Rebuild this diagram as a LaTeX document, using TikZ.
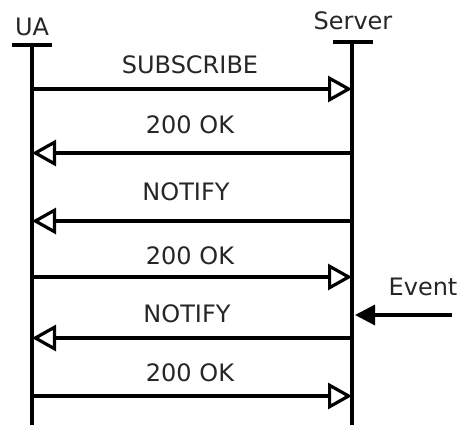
\documentclass[tikz,border=0pt]{standalone}
\usepackage{fontspec}
\setmainfont{DejaVu Sans}
\usetikzlibrary{arrows.meta}
\begin{document}
\begin{tikzpicture}[x=1pt,y=-1pt,
  lifeline/.style={line width=3.2pt},
  msg/.style={line width=3.2pt,-{Triangle[open,length=24pt,width=26pt]}},
  evt/.style={line width=3.2pt,-{Triangle[length=20pt,width=20pt]}},
  lbl/.style={font=\fontsize{24}{26}\selectfont,inner sep=0pt,text=black!85}
]
\useasboundingbox (0,0) rectangle (458,425);
% lifelines with their head bars
\coordinate (uatop) at (32,45);
\coordinate (uabot) at (32,425);
\coordinate (svtop) at (352,42);
\coordinate (svbot) at (352,425);
\draw[lifeline] (uatop) -- (uabot);
\draw[lifeline] (12,45) -- (52,45);
\draw[lifeline] (svtop) -- (svbot);
\draw[lifeline] (333,42) -- (373,42);
\node[lbl] (ua) at (32,27) {UA};
\node[lbl] (server) at (353,21) {Server};
% message end points
\foreach \n/\y in {1/89,2/153,3/221,4/277,5/338,6/396}{
  \coordinate (a\n) at (32,\y);
  \coordinate (b\n) at (352,\y);
}
\draw[msg] (a1) -- (b1);
\draw[msg] (b2) -- (a2);
\draw[msg] (b3) -- (a3);
\draw[msg] (a4) -- (b4);
\draw[msg] (b5) -- (a5);
\draw[msg] (a6) -- (b6);
\node[lbl] (m1) at (190,65) {SUBSCRIBE};
\node[lbl] (m2) at (190,125) {200 OK};
\node[lbl] (m3) at (186,192) {NOTIFY};
\node[lbl] (m4) at (190,256) {200 OK};
\node[lbl] (m5) at (187,314) {NOTIFY};
\node[lbl] (m6) at (190,373) {200 OK};
% external event
\coordinate (evs) at (452,315);
\coordinate (evt) at (355,315);
\draw[evt] (evs) -- (evt);
\node[lbl] (event) at (423,287) {Event};
\end{tikzpicture}
\end{document}
